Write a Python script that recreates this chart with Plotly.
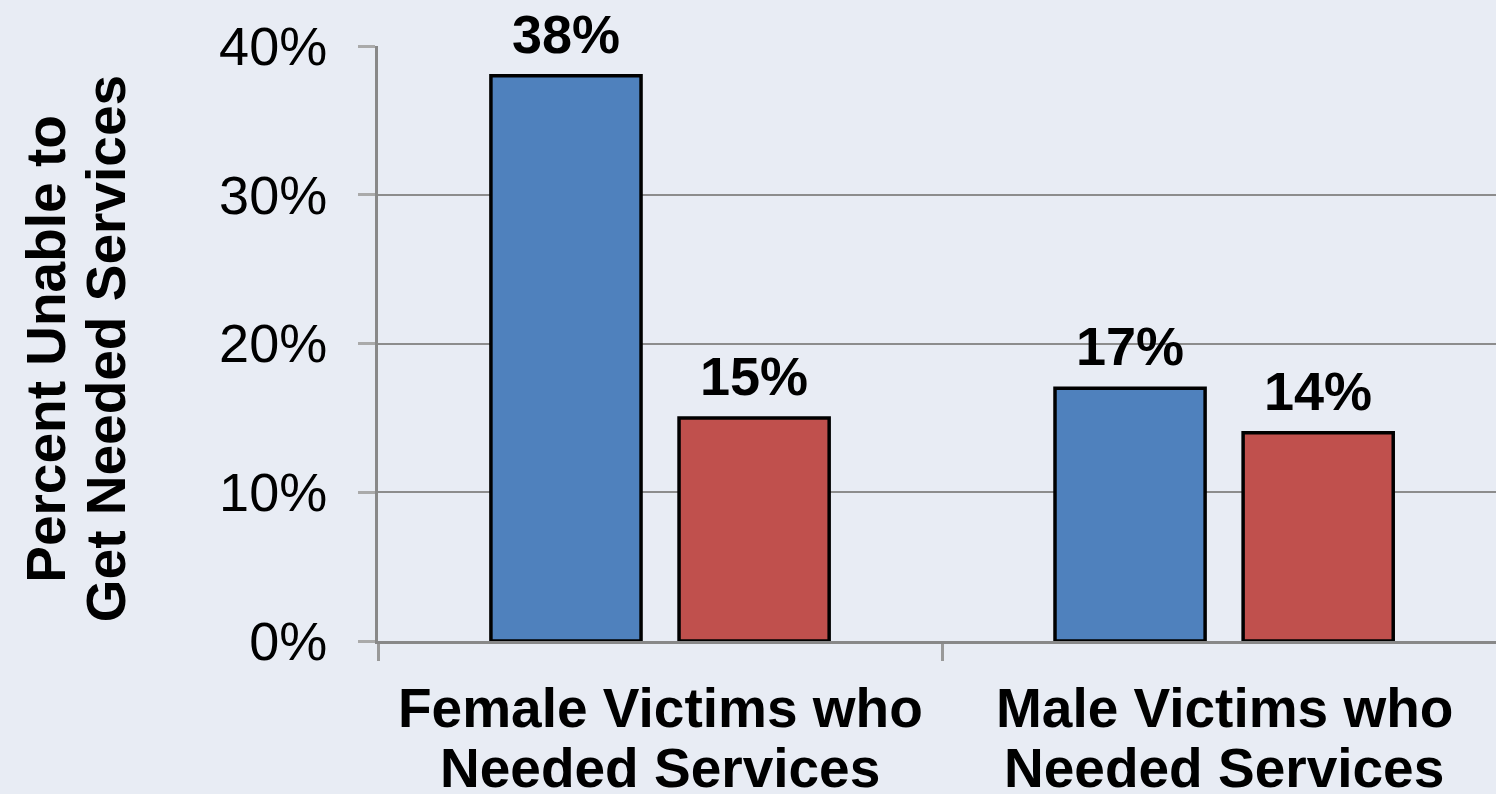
import plotly.graph_objects as go

categories = ["Female Victims who Needed Services", "Male Victims who Needed Services"]
cat_line1 = ["Female Victims who", "Male Victims who"]
cat_line2 = ["Needed Services", "Needed Services"]
series_a = [38, 17]
series_b = [15, 14]
y_ticks = [0, 10, 20, 30, 40]
y_tick_labels = ["0%", "10%", "20%", "30%", "40%"]
y_title_lines = ["Percent Unable to", "Get Needed Services"]

FONT = "Liberation Sans, Arial, sans-serif"
BG = "#E8ECF4"
BARGAP = 0.333
GROUPGAP = 0.202
CAT_PX = 564

fig = go.Figure()
colors = ["#4F81BD", "#C0504D"]
for vals, color in zip([series_a, series_b], colors):
    fig.add_trace(go.Bar(
        x=categories, y=vals,
        marker=dict(color=color, line=dict(color="black", width=3.5)),
        showlegend=False, hoverinfo="skip",
    ))

# value labels above bars
slot_px = (1 - BARGAP) * CAT_PX / 2
for vals, shift in [(series_a, -slot_px / 2), (series_b, slot_px / 2)]:
    for c, v in zip(categories, vals):
        fig.add_annotation(
            x=c, y=v, xref="x", yref="y", text=f"{v}%", showarrow=False,
            xanchor="center", yanchor="bottom", xshift=shift, yshift=10,
            font=dict(family=FONT, size=54, color="black", weight=700),
        )

# category labels (two lines, tight spacing)
for c, l1, l2 in zip(categories, cat_line1, cat_line2):
    for txt, yy in [(l1, -0.112), (l2, -0.213)]:
        fig.add_annotation(
            x=c, y=yy, xref="x", yref="paper", text=txt, showarrow=False,
            xanchor="center", yanchor="middle",
            font=dict(family=FONT, size=55, color="black", weight=700),
        )

# y-axis title (two centred lines)
for txt, xx in zip(y_title_lines, [-0.297, -0.243]):
    fig.add_annotation(
        text=txt, xref="paper", yref="paper", x=xx, y=0.491,
        xanchor="center", yanchor="middle", textangle=-90, showarrow=False,
        font=dict(family=FONT, size=55, color="black", weight=700),
    )

fig.update_layout(
    width=1496, height=794,
    margin=dict(l=378, r=0, t=46, b=153),
    paper_bgcolor=BG, plot_bgcolor=BG,
    barmode="group", bargap=BARGAP, bargroupgap=GROUPGAP,
    font=dict(family=FONT, color="black"),
)
fig.update_xaxes(
    range=[-0.5, 1.482], showgrid=False, showticklabels=False,
    showline=True, linecolor="#888888", linewidth=3,
    ticks="outside", tickson="boundaries", ticklen=17, tickwidth=3, tickcolor="#999999",
)
fig.update_yaxes(
    range=[0, 40], tickvals=y_ticks, ticktext=y_tick_labels,
    showgrid=True, gridcolor="#8C8C8C", gridwidth=2,
    showline=True, linecolor="#888888", linewidth=3,
    ticks="outside", ticklen=17, tickwidth=3, tickcolor="#AAAAAA",
    tickfont=dict(family=FONT, size=54, color="black"),
    ticklabelstandoff=20, zeroline=False,
)
fig.write_html(
    "out.html",
    config={"displayModeBar": False},
    post_script="document.body.style.margin='0';document.body.style.background='#E8ECF4';",
)
